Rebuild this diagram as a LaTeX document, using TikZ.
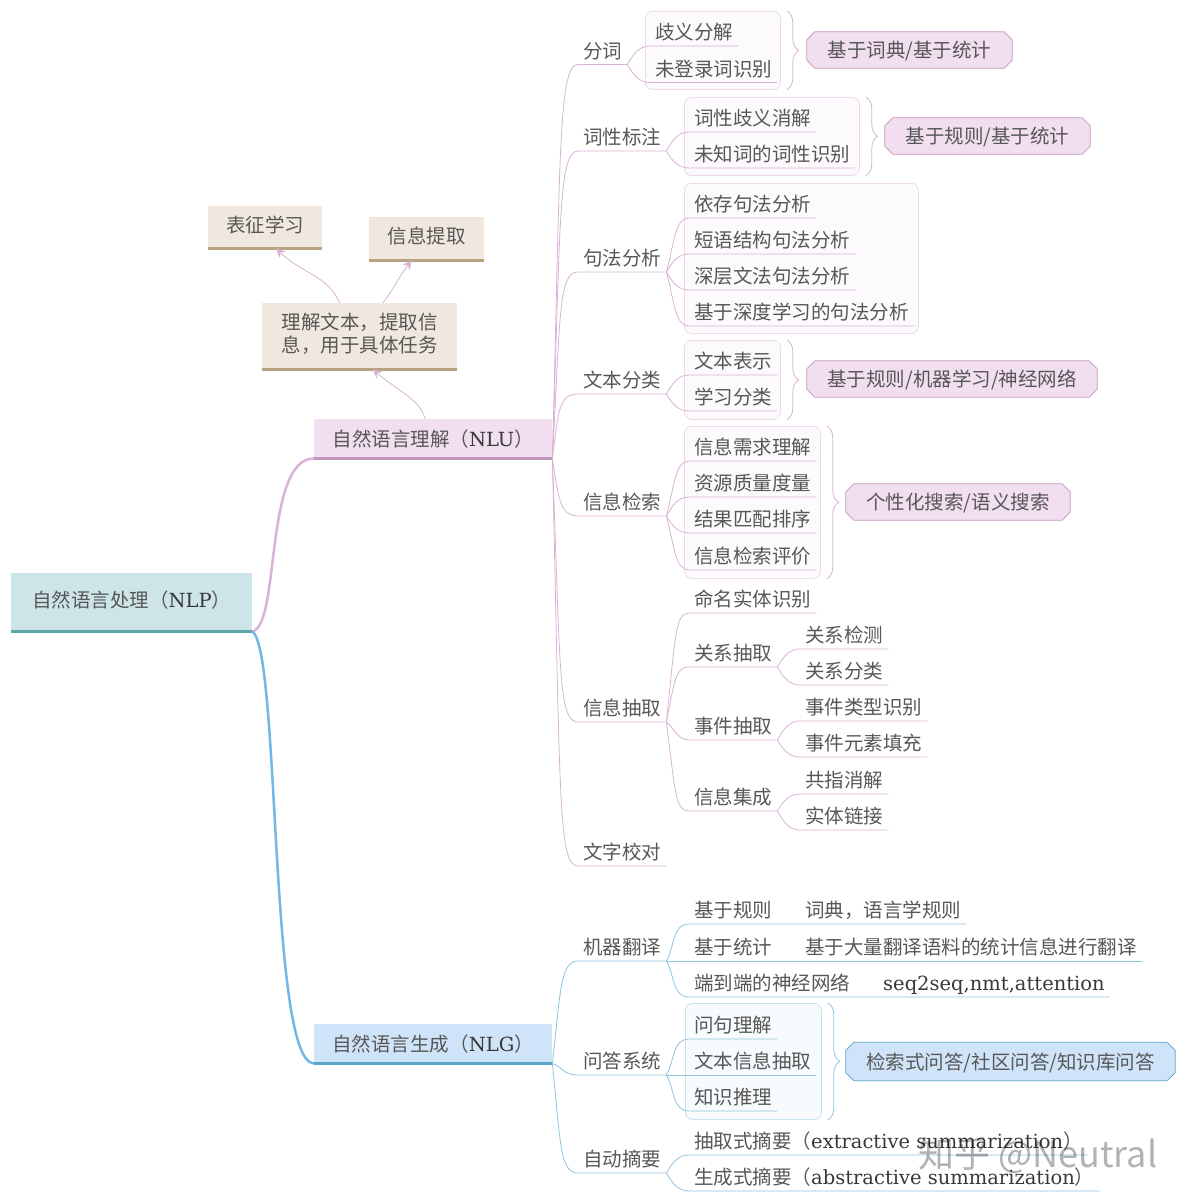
\documentclass[tikz,border=0pt]{standalone}
\usepackage{fontspec}
\setmainfont{DejaVu Serif}
\newfontfamily\cjk{Noto Sans CJK SC}
\usetikzlibrary{arrows.meta,backgrounds,decorations.pathreplacing}
\definecolor{pinkline}{HTML}{D9B2D5}
\definecolor{blueline}{HTML}{8FC4DF}
\definecolor{textgray}{HTML}{575757}
\definecolor{latdark}{HTML}{383838}
\definecolor{nlpfill}{HTML}{CDE5E8}
\definecolor{nlpbar}{HTML}{5BA6A6}
\definecolor{nlufill}{HTML}{F1DEEF}
\definecolor{nlubar}{HTML}{C396BD}
\definecolor{nlgfill}{HTML}{CFE4F8}
\definecolor{nlgbar}{HTML}{5AA3C9}
\definecolor{taskfill}{HTML}{F0E8DE}
\definecolor{taskbar}{HTML}{B9A27F}
\definecolor{mainblue}{HTML}{72B7E6}
\newcommand{\lat}[1]{{\rmfamily\color{latdark}#1}}
\newcommand{\chamfer}[1]{([xshift=8pt]#1.north west)--([xshift=-8pt]#1.north east)--([yshift=-8pt]#1.north east)--([yshift=8pt]#1.south east)--([xshift=-8pt]#1.south east)--([xshift=8pt]#1.south west)--([yshift=8pt]#1.south west)--([yshift=-8pt]#1.north west)--cycle}
\tikzset{
 leaf/.style={anchor=south west, inner xsep=5pt, inner ysep=0pt, text height=16pt, text depth=6pt, text=textgray, font=\cjk\fontsize{19.5}{23}\selectfont},
 topic/.style={anchor=north west, inner sep=0pt, align=center, text height=17pt, text depth=7pt, text=textgray, font=\cjk\fontsize{19.5}{23}\selectfont},
 topicb/.style={topic, text height=20pt, text depth=5pt},
 panelp/.style={anchor=north west, inner sep=0pt, rounded corners=7pt, line width=.8pt, draw=pinkline!50, fill=pinkline!7},
 panelb/.style={anchor=north west, inner sep=0pt, rounded corners=7pt, line width=.8pt, draw=blueline!50, fill=blueline!7},
 note/.style={inner sep=0pt, text height=20pt, text depth=5pt, minimum height=36pt, text=textgray, font=\cjk\fontsize{19.5}{23}\selectfont},
 notep/.style={draw=nlubar, fill=nlufill, line width=.7pt},
 noteb/.style={draw=nlgbar, fill=nlgfill, line width=.7pt},
 rise/.style={out=60, in=180},
 fall/.style={out=-60, in=180},
 pl/.style={draw=pinkline, line width=.8pt},
 bl/.style={draw=blueline, line width=.8pt},
 bracep/.style={pl, decorate, decoration={brace, amplitude=12pt}},
 braceb/.style={bl, decorate, decoration={brace, amplitude=12pt}},
 bar/.style={line width=3pt}
}
\begin{document}
\begin{tikzpicture}[x=1pt, y=-1pt, >={Stealth[length=9pt,width=9pt]}]
 \useasboundingbox (0,0) rectangle (1185,1201);

 % panels behind the leaves
 \node[panelp, minimum width=135pt, minimum height=78pt] (fcbox) at (645,11) {};
 \node[panelp, minimum width=175pt, minimum height=78pt] (cxbox) at (684,97) {};
 \node[panelp, minimum width=234pt, minimum height=150pt] (jfbox) at (684,183) {};
 \node[panelp, minimum width=96pt, minimum height=79pt] (flbox) at (684,340) {};
 \node[panelp, minimum width=136pt, minimum height=152pt] (jsbox) at (684,426) {};
 \node[panelb, minimum width=136pt, minimum height=116pt] (wdbox) at (685,1003) {};

 % topics
 \node[topic, fill=nlpfill, minimum width=241pt, minimum height=58pt] (nlp) at (11,573) {自然语言处理（\lat{NLP}）};
 \node[topicb, fill=nlufill, minimum width=238pt, minimum height=39pt] (nlu) at (314,419) {自然语言理解（\lat{NLU}）};
 \node[topicb, fill=nlgfill, minimum width=238pt, minimum height=39pt] (nlg) at (314,1024) {自然语言生成（\lat{NLG}）};
 \node[topic, text height=40pt, fill=taskfill, minimum width=195pt, minimum height=66pt] (task) at (262,303) {理解文本，提取信\\息，用于具体任务};
 \node[topic, fill=taskfill, minimum width=114pt, minimum height=42pt] (repr) at (208,206) {表征学习};
 \node[topic, fill=taskfill, minimum width=115pt, minimum height=43pt] (info) at (369,217) {信息提取};

 \draw[bar, draw=nlpbar] (nlp.south west)--(nlp.south east);
 \draw[bar, draw=nlubar] (nlu.south west)--(nlu.south east);
 \draw[bar, draw=nlgbar] (nlg.south west)--(nlg.south east);
 \draw[bar, draw=taskbar] (task.south west)--(task.south east);
 \draw[bar, draw=taskbar] (repr.south west)--(repr.south east);
 \draw[bar, draw=taskbar] (info.south west)--(info.south east);

 \draw[draw=pinkline, line width=2.5pt] (nlp.south east) .. controls +(28,-6) and +(-50,0) .. (nlu.south west);
 \draw[draw=mainblue, line width=2.5pt] (nlp.south east) .. controls +(28,20) and +(-45,0) .. (nlg.south west);

 \draw[pl, ->] ([xshift=-8pt]nlu.north) .. controls +(-6,-20) and +(30,25) .. ([xshift=13pt]task.south);
 \draw[pl, ->] ([xshift=-20pt]task.north) .. controls +(-12,-28) and +(25,25) .. ([xshift=11pt]repr.south);
 \draw[pl, ->] ([xshift=23pt]task.north) .. controls +(10,-12) and +(-12,15) .. ([xshift=-15pt]info.south);

 % second level under NLU
 \node[leaf] (fc) at (578,64.5) {分词};
 \node[leaf] (cx) at (578,151) {词性标注};
 \node[leaf] (jf) at (578,272) {句法分析};
 \node[leaf] (fl) at (578,394) {文本分类};
 \node[leaf] (js) at (578,516) {信息检索};
 \node[leaf] (cq) at (578,722) {信息抽取};
 \node[leaf] (jd) at (578,866) {文字校对};

 \draw[pl] (nlu.south east) .. controls +(8,-300) and +(-20,0) .. (fc.south west)--(fc.south east);
 \draw[pl] (nlu.south east) .. controls +(8,-230) and +(-20,0) .. (cx.south west)--(cx.south east);
 \draw[pl] (nlu.south east) .. controls +(8,-140) and +(-20,0) .. (jf.south west)--(jf.south east);
 \draw[pl] (nlu.south east) .. controls +(6,-45) and +(-20,0) .. (fl.south west)--(fl.south east);
 \draw[pl] (nlu.south east) .. controls +(6,40) and +(-18,0) .. (js.south west)--(js.south east);
 \draw[pl] (nlu.south east) .. controls +(8,210) and +(-20,0) .. (cq.south west)--(cq.south east);
 \draw[pl] (nlu.south east) .. controls +(8,340) and +(-20,0) .. (jd.south west)--(jd.south east);

 % third level under NLU
 \node[leaf] (fc1) at (650,46) {歧义分解};
 \node[leaf] (fc2) at (650,82.5) {未登录词识别};
 \draw[pl] (fc.south east) to[rise] (fc1.south west)--(fc1.south east);
 \draw[pl] (fc.south east) to[fall] (fc2.south west)--(fc2.south east);

 \node[leaf] (cx1) at (689,132) {词性歧义消解};
 \node[leaf] (cx2) at (689,168) {未知词的词性识别};
 \draw[pl] (cx.south east) to[rise] (cx1.south west)--(cx1.south east);
 \draw[pl] (cx.south east) to[fall] (cx2.south west)--(cx2.south east);

 \node[leaf] (jf1) at (689,218) {依存句法分析};
 \node[leaf] (jf2) at (689,254) {短语结构句法分析};
 \node[leaf] (jf3) at (689,290) {深层文法句法分析};
 \node[leaf] (jf4) at (689,326) {基于深度学习的句法分析};
 \draw[pl] (jf.south east) .. controls +(8,-30) and +(-14,0) .. (jf1.south west)--(jf1.south east);
 \draw[pl] (jf.south east) to[rise] (jf2.south west)--(jf2.south east);
 \draw[pl] (jf.south east) to[fall] (jf3.south west)--(jf3.south east);
 \draw[pl] (jf.south east) .. controls +(8,30) and +(-14,0) .. (jf4.south west)--(jf4.south east);

 \node[leaf] (fl1) at (689,375) {文本表示};
 \node[leaf] (fl2) at (689,411) {学习分类};
 \draw[pl] (fl.south east) to[rise] (fl1.south west)--(fl1.south east);
 \draw[pl] (fl.south east) to[fall] (fl2.south west)--(fl2.south east);

 \node[leaf] (js1) at (689,461) {信息需求理解};
 \node[leaf] (js2) at (689,497) {资源质量度量};
 \node[leaf] (js3) at (689,533) {结果匹配排序};
 \node[leaf] (js4) at (689,570) {信息检索评价};
 \draw[pl] (js.south east) .. controls +(8,-30) and +(-14,0) .. (js1.south west)--(js1.south east);
 \draw[pl] (js.south east) to[rise] (js2.south west)--(js2.south east);
 \draw[pl] (js.south east) to[fall] (js3.south west)--(js3.south east);
 \draw[pl] (js.south east) .. controls +(8,30) and +(-14,0) .. (js4.south west)--(js4.south east);

 \node[leaf] (cq1) at (689,613) {命名实体识别};
 \node[leaf] (cq2) at (689,667) {关系抽取};
 \node[leaf] (cq3) at (689,740) {事件抽取};
 \node[leaf] (cq4) at (689,811) {信息集成};
 \draw[pl] (cq.south east) .. controls +(9,-85) and +(-14,0) .. (cq1.south west)--(cq1.south east);
 \draw[pl] (cq.south east) .. controls +(8,-40) and +(-14,0) .. (cq2.south west)--(cq2.south east);
 \draw[pl] (cq.south east) to[out=-40,in=180] (cq3.south west)--(cq3.south east);
 \draw[pl] (cq.south east) .. controls +(9,70) and +(-14,0) .. (cq4.south west)--(cq4.south east);

 \node[leaf] (gx1) at (800,649) {关系检测};
 \node[leaf] (gx2) at (800,685) {关系分类};
 \node[leaf] (sj1) at (800,721) {事件类型识别};
 \node[leaf] (sj2) at (800,757) {事件元素填充};
 \node[leaf] (jc1) at (800,794) {共指消解};
 \node[leaf] (jc2) at (800,830) {实体链接};
 \draw[pl] (cq2.south east) to[rise] (gx1.south west)--(gx1.south east);
 \draw[pl] (cq2.south east) to[fall] (gx2.south west)--(gx2.south east);
 \draw[pl] (cq3.south east) to[rise] (sj1.south west)--(sj1.south east);
 \draw[pl] (cq3.south east) to[fall] (sj2.south west)--(sj2.south east);
 \draw[pl] (cq4.south east) to[rise] (jc1.south west)--(jc1.south east);
 \draw[pl] (cq4.south east) to[fall] (jc2.south west)--(jc2.south east);

 % braces and notes
 \node[note, minimum width=205pt] (fcnote) at (909.5,50) {基于词典/基于统计};
 \node[note, minimum width=205pt] (cxnote) at (987.5,136) {基于规则/基于统计};
 \node[note, minimum width=290pt] (flnote) at (952,379) {基于规则/机器学习/神经网络};
 \node[note, minimum width=224pt] (jsnote) at (958,502) {个性化搜索/语义搜索};
 \node[note, minimum width=329pt, minimum height=38pt] (wdnote) at (1010.5,1061.5) {检索式问答/社区问答/知识库问答};
 \begin{scope}[on background layer]
  \draw[notep] \chamfer{fcnote};
  \draw[notep] \chamfer{cxnote};
  \draw[notep] \chamfer{flnote};
  \draw[notep] \chamfer{jsnote};
  \draw[noteb] \chamfer{wdnote};
 \end{scope}

 \draw[bracep] ([xshift=6pt]fcbox.north east)--([xshift=6pt]fcbox.south east);
 \draw[bracep] ([xshift=6pt]cxbox.north east)--([xshift=6pt]cxbox.south east);
 \draw[bracep] ([xshift=6pt]flbox.north east)--([xshift=6pt]flbox.south east);
 \draw[bracep] ([xshift=6pt]jsbox.north east)--([xshift=6pt]jsbox.south east);
 \draw[braceb] ([xshift=6pt]wdbox.north east)--([xshift=6pt]wdbox.south east);

 % second level under NLG
 \node[leaf] (fy) at (578,961) {机器翻译};
 \node[leaf] (wd) at (578,1075) {问答系统};
 \node[leaf] (zy) at (578,1173) {自动摘要};
 \draw[bl] (nlg.south east) .. controls +(8,-70) and +(-18,0) .. (fy.south west)--(fy.south east);
 \draw[bl] (nlg.south east) .. controls +(10,4) and +(-14,0) .. (wd.south west)--(wd.south east);
 \draw[bl] (nlg.south east) .. controls +(8,80) and +(-18,0) .. (zy.south west)--(zy.south east);

 % third level under NLG
 \node[leaf] (fy1) at (689,924) {基于规则};
 \node[leaf] (fy2) at (689,961) {基于统计};
 \node[leaf] (fy3) at (689,997) {端到端的神经网络};
 \node[leaf] (fy1a) at (800,924) {词典，语言学规则};
 \node[leaf] (fy2a) at (800,961) {基于大量翻译语料的统计信息进行翻译};
 \node[leaf] (fy3a) at (878,997) {\lat{seq2seq,nmt,attention}};
 \draw[bl] (fy.south east) to[rise] (fy1.south west)--(fy1.south east)--(fy1a.south west)--(fy1a.south east);
 \draw[bl] (fy.south east)--(fy2.south west)--(fy2.south east)--(fy2a.south west)--(fy2a.south east);
 \draw[bl] (fy.south east) to[fall] (fy3.south west)--(fy3.south east)--(fy3a.south west)--(fy3a.south east);

 \node[leaf] (wd1) at (689,1039) {问句理解};
 \node[leaf] (wd2) at (689,1075) {文本信息抽取};
 \node[leaf] (wd3) at (689,1111) {知识推理};
 \draw[bl] (wd.south east) to[rise] (wd1.south west)--(wd1.south east);
 \draw[bl] (wd.south east)--(wd2.south west)--(wd2.south east);
 \draw[bl] (wd.south east) to[fall] (wd3.south west)--(wd3.south east);

 \node[leaf] (zy1) at (689,1155) {抽取式摘要（\lat{extractive summarization}）};
 \node[leaf] (zy2) at (689,1191) {生成式摘要（\lat{abstractive summarization}）};
 \draw[bl] (zy.south east) to[rise] (zy1.south west)--(zy1.south east);
 \draw[bl] (zy.south east) to[fall] (zy2.south west)--(zy2.south east);

 % watermark
 \node[anchor=west, inner sep=0pt, text=black, text opacity=.3, font=\cjk\fontsize{36}{40}\selectfont] (mark) at (918,1155) {知乎 @Neutral};
\end{tikzpicture}
\end{document}
